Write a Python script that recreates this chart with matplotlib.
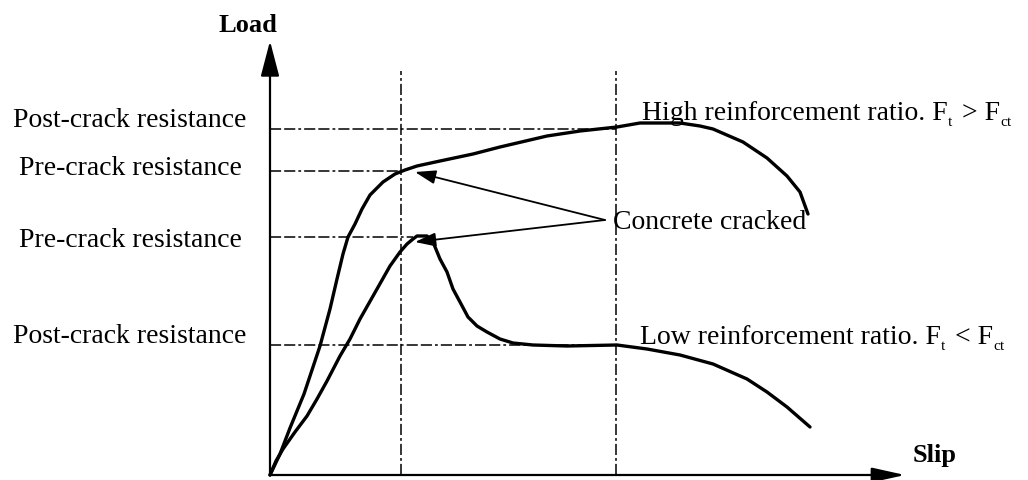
import matplotlib
matplotlib.use("Agg")
import matplotlib.pyplot as plt

plt.rcParams['font.family'] = ['Liberation Serif', 'DejaVu Serif']
plt.rcParams['lines.scale_dashes'] = False

# ---- courbes charge / glissement (unites arbitraires) ----
high_slip = [0, 0.10, 0.20, 0.34, 0.50, 0.60, 0.67, 0.73, 0.78, 0.85, 0.92, 1.00, 1.13, 1.25,
             1.35, 1.47, 1.70, 2.03, 2.30, 2.77, 3.10, 3.47, 3.70, 4.10, 4.30, 4.43, 4.73,
             4.97, 5.17, 5.30, 5.38]
high_load = [0, 0.21, 0.47, 0.81, 1.29, 1.66, 1.96, 2.21, 2.38, 2.51, 2.66, 2.80, 2.93, 3.01,
             3.05, 3.09, 3.14, 3.21, 3.28, 3.39, 3.44, 3.48, 3.52, 3.52, 3.49, 3.46, 3.33,
             3.17, 2.99, 2.83, 2.61]

low_slip = [0, 0.06, 0.13, 0.25, 0.37, 0.47, 0.57, 0.70, 0.80, 0.90, 1.07, 1.20, 1.30, 1.37,
            1.43, 1.47, 1.57, 1.63, 1.70, 1.77, 1.83, 1.90, 1.98, 2.07, 2.17, 2.30, 2.43,
            2.63, 2.97, 3.47, 3.77, 4.10, 4.43, 4.77, 4.97, 5.17, 5.40]
low_load = [0, 0.14, 0.26, 0.43, 0.59, 0.76, 0.94, 1.19, 1.36, 1.56, 1.86, 2.09, 2.23, 2.31,
            2.36, 2.39, 2.39, 2.33, 2.16, 2.03, 1.86, 1.73, 1.58, 1.49, 1.43, 1.36, 1.32,
            1.30, 1.29, 1.30, 1.26, 1.20, 1.11, 0.96, 0.83, 0.68, 0.48]

# niveaux de resistance et glissements de reference
level_names = ["Post-crack resistance", "Pre-crack resistance",
               "Pre-crack resistance", "Post-crack resistance"]
level_values = [3.46, 3.04, 2.38, 1.30]
level_ends = [3.46, 1.31, 1.43, 3.46]
slip_marks = [1.31, 3.46]

crack_tips = [(1.45, 3.03), (1.45, 2.33)]

fig = plt.figure(figsize=(10.28, 4.81), dpi=100)
ax = fig.add_axes([0, 0, 1, 1])
ax.set_xlim(-2.70, 7.58)
ax.set_ylim(-0.05, 4.76)
ax.axis('off')

h_style = (0, (8, 2.2, 8, 2.2, 2, 2.2))
v_style = (0, (8, 2.2, 2, 2.2))

# lignes de reference
for val, end in zip(level_values, level_ends):
    ax.plot([0, end], [val, val], color='k', lw=1.1, linestyle=h_style)
for s in slip_marks:
    ax.plot([s, s], [0, 4.04], color='k', lw=1.1, linestyle=v_style)

# courbes
ax.plot(high_slip, high_load, color='k', lw=2.4, solid_capstyle='round')
ax.plot(low_slip, low_load, color='k', lw=2.4, solid_capstyle='round')

# axes avec fleches
ax.annotate('', xy=(0, 4.34), xytext=(0, 0),
            arrowprops=dict(arrowstyle='-|>,head_length=1.45,head_width=0.38',
                            mutation_scale=15, lw=1.6, color='k',
                            shrinkA=0, shrinkB=0))
ax.annotate('', xy=(6.35, 0), xytext=(0, 0),
            arrowprops=dict(arrowstyle='-|>,head_length=1.35,head_width=0.3',
                            mutation_scale=15, lw=1.6, color='k',
                            shrinkA=0, shrinkB=0))
ax.text(-0.22, 4.44, "Load", fontsize=19, fontweight='bold', ha='center', va='baseline')
ax.text(6.43, 0.14, "Slip", fontsize=19, fontweight='bold', ha='left', va='baseline')

# etiquettes a gauche
offsets = [0.03, -0.03, -0.09, 0.03]
for name, val, dy in zip(level_names, level_values, offsets):
    ax.text(-1.40, val + dy, name, fontsize=20, ha='center', va='baseline')


def texte_indices(x, y, morceaux):
    """ecrit une suite de (texte, indice ?) bout a bout, indices plus petits et abaisses"""
    fig.canvas.draw()
    rend = fig.canvas.get_renderer()
    inv = ax.transData.inverted()
    y_disp = ax.transData.transform((x, y))[1]
    x_cur = x
    for txt, sub in morceaux:
        if sub:
            yy = inv.transform((0, y_disp - 6))[1]
            t = ax.text(x_cur, yy, txt, fontsize=11, ha='left', va='baseline')
        else:
            t = ax.text(x_cur, y, txt, fontsize=20, ha='left', va='baseline')
        bb = t.get_window_extent(renderer=rend)
        # petit blanc apres un indice
        x_cur = inv.transform((bb.x1 + (3 if sub else 0), 0))[0]


# etiquettes a droite
texte_indices(3.72, 3.56, [("High reinforcement ratio. F", False), ("t", True),
                           (" > F", False), ("ct", True)])
texte_indices(3.70, 1.32, [("Low reinforcement ratio. F", False), ("t", True),
                           (" < F", False), ("ct", True)])

# fissuration du beton
ax.text(3.43, 2.47, "Concrete cracked", fontsize=20, ha='left', va='baseline')
for tip in crack_tips:
    ax.annotate('', xy=tip, xytext=(3.35, 2.55),
                arrowprops=dict(arrowstyle='-|>,head_length=0.9,head_width=0.3',
                                mutation_scale=14, lw=1.3, color='k',
                                shrinkA=0, shrinkB=0))

fig.savefig("out.png", dpi=100)
